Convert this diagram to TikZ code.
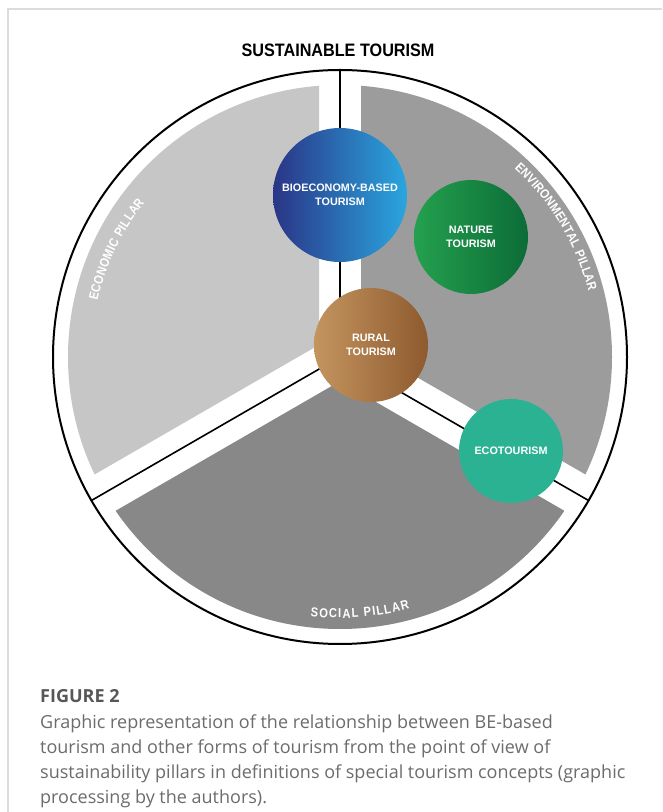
\documentclass[tikz,border=0pt]{standalone}
\usepackage{fontspec}
\usepackage{graphicx}
\setmainfont{Liberation Sans}
\newfontfamily\capfont{Open Sans}
\newfontfamily\condfont[FakeStretch=0.86]{Liberation Sans}
\usetikzlibrary{calc,decorations.text}

\definecolor{framegray}{HTML}{DCDCDC}
\definecolor{econgray}{HTML}{C6C6C6}
\definecolor{envgray}{HTML}{9C9C9C}
\definecolor{socgray}{HTML}{888888}
\definecolor{bedark}{HTML}{2A3586}
\definecolor{belight}{HTML}{2AA6DF}
\definecolor{natlight}{HTML}{24A04F}
\definecolor{natdark}{HTML}{0C6C37}
\definecolor{rurlight}{HTML}{C4955F}
\definecolor{rurdark}{HTML}{8E5A2E}
\definecolor{ecoteal}{HTML}{2BB293}
\definecolor{captitle}{HTML}{575757}
\definecolor{captext}{HTML}{6C6C6C}

\tikzset{
  tourcircle/.style={circle, inner sep=0pt, text=white, align=center,
    font=\bfseries\fontsize{10.8}{14.5}\selectfont},
  divider/.style={black, line width=1.6pt},
  pillarlabel/.style={decorate, decoration={text along path,
    text align={fit to path}}},
  capline/.style={anchor=base west, inner sep=0pt, text=captext,
    font=\capfont\fontsize{18}{18}\selectfont}
}

\begin{document}
\begin{tikzpicture}[x=1pt,y=1pt]
\useasboundingbox (0,0) rectangle (662,812);
\fill[white] (0,0) rectangle (662,812);

% frame of the figure panel
\draw[framegray, line width=1.5pt] (7,803) -- (662,803);
\draw[framegray, line width=1.5pt] (8,803) -- (8,0);

% title
\node[font=\bfseries\fontsize{18}{18}\selectfont] (title) at (338,762)
  {\scalebox{0.9}[1]{SUSTAINABLE TOURISM}};

% centre of the wheel and its three dividing radii
\coordinate (C) at (340,455);
\coordinate (rimT) at ($(C)+(90:287)$);
\coordinate (rimL) at ($(C)+(210:287)$);
\coordinate (rimR) at ($(C)+(330:287)$);

% the three pillars, separated by white bands
\begin{scope}
  \clip (C) circle (272);
  \fill[econgray] ($(C)+(150:24.25)$) -- ++(90:500)
    -- ($(C)+(150:24.25)+(150:700)$) -- ($(C)+(150:24.25)+(210:500)$) -- cycle;
  \fill[envgray] ($(C)+(30:24.25)$) -- ++(90:500)
    -- ($(C)+(30:24.25)+(30:700)$) -- ($(C)+(30:24.25)+(330:500)$) -- cycle;
  \fill[socgray] ($(C)+(270:24.25)$) -- ++(210:500)
    -- ($(C)+(270:24.25)+(270:700)$) -- ($(C)+(270:24.25)+(330:500)$) -- cycle;
\end{scope}

% outer ring
\draw[black, line width=2pt] (C) circle (287);

% dividers
\draw[divider] (C) -- (rimT);
\draw[divider] (C) -- (rimL);
\draw[divider] (C) -- (rimR);

% pillar names along the rim
\path[pillarlabel, decoration={text={|\color{white}\condfont\bfseries\fontsize{13}{13}\selectfont|ECONOMIC PILLAR}}]
  ($(C)+(167:249)$) arc[start angle=167, end angle=141.7, radius=249];
\path[pillarlabel, decoration={text={|\color{white}\condfont\bfseries\fontsize{13}{13}\selectfont|ENVIRONMENTAL PILLAR}}]
  ($(C)+(47.3:257)$) arc[start angle=47.3, end angle=14.8, radius=257];
\path[pillarlabel, decoration={text={|\color{white}\condfont\bfseries\fontsize{13}{13}\selectfont|SOCIAL PILLAR}}]
  ($(C)+(263.5:261)$) arc[start angle=263.5, end angle=285.5, radius=261];

% forms of tourism
\node[tourcircle, minimum size=134pt, left color=bedark, right color=belight]
  (be) at (340,617) {BIOECONOMY-BASED\\TOURISM};
\node[tourcircle, minimum size=114pt, left color=natlight, right color=natdark]
  (nature) at (471,575) {NATURE\\TOURISM};
\node[tourcircle, minimum size=114pt, left color=rurlight, right color=rurdark]
  (rural) at (371,467) {RURAL\\TOURISM};
\node[tourcircle, minimum size=104pt, fill=ecoteal]
  (eco) at (511,361) {ECOTOURISM};

% caption
\node[capline, text=captitle, font=\capfont\bfseries\fontsize{18}{18}\selectfont]
  (figno) at (40,109) {FIGURE 2};
\node[capline] (cap1) at (40,83) {Graphic representation of the relationship between BE-based};
\node[capline] (cap2) at (40,58) {tourism and other forms of tourism from the point of view of};
\node[capline] (cap3) at (40,34) {sustainability pillars in definitions of special tourism concepts (graphic};
\node[capline] (cap4) at (40,9) {processing by the authors).};
\end{tikzpicture}
\end{document}
